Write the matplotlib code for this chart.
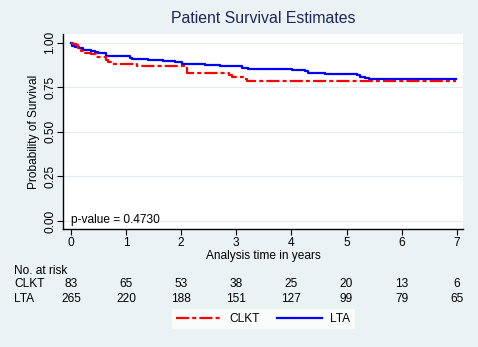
import matplotlib
matplotlib.use("Agg")
import matplotlib.pyplot as plt
import matplotlib.transforms as mtransforms

plt.rcParams['font.family'] = ['Liberation Sans', 'DejaVu Sans']

# Kaplan-Meier steps
clkt_time = [0, 0.036, 0.097, 0.127, 0.187, 0.248, 0.37, 0.46, 0.63, 0.67, 0.73,
             1.19, 2.10, 2.86, 2.92, 3.13, 3.19]
clkt_surv = [1.0, 0.994, 0.986, 0.972, 0.955, 0.944, 0.935, 0.922, 0.905, 0.892, 0.881,
             0.868, 0.832, 0.819, 0.809, 0.798, 0.787]

lta_time = [0, 0.01, 0.025, 0.067, 0.145, 0.218, 0.37, 0.43, 0.49, 0.64, 1.065, 1.10,
            1.40, 1.675, 1.89, 2.01, 2.43, 2.70, 3.10, 3.22, 4.005, 4.25, 4.31, 4.61,
            5.185, 5.245, 5.335, 5.40]
lta_surv = [1.0, 0.99, 0.981, 0.976, 0.969, 0.961, 0.955, 0.948, 0.941, 0.925, 0.916, 0.910,
            0.903, 0.897, 0.890, 0.882, 0.877, 0.868, 0.860, 0.854, 0.847, 0.840, 0.832, 0.826,
            0.819, 0.809, 0.802, 0.795]
end_time = 6.98

risk_times = [0, 1, 2, 3, 4, 5, 6, 7]
clkt_risk = [83, 65, 53, 38, 25, 20, 13, 6]
lta_risk = [265, 220, 188, 151, 127, 99, 79, 65]
y_ticks = [0, 0.25, 0.5, 0.75, 1.0]
p_text = "p-value = 0.4730"

fs = 8.6
bg = '#EAF2F3'
fig = plt.figure(figsize=(4.78, 3.47), dpi=100, facecolor=bg)
ax = fig.add_axes([0.1318, 0.340, 0.8368, 0.562])
ax.set_facecolor('white')

# curves
ax.step(lta_time + [end_time], lta_surv + [lta_surv[-1]], where='post',
        color='#0000FF', lw=1.6, label='LTA', zorder=3)
red, = ax.step(clkt_time + [end_time], clkt_surv + [clkt_surv[-1]], where='post',
               color='#FF0000', lw=1.6, label='CLKT', zorder=4)
red.set_dashes((5.9, 1.4, 1.8, 1.4))

ax.set_xlim(-0.145, 7.114)
ax.set_ylim(-0.045, 1.049)
ax.set_xticks(risk_times)
ax.set_yticks(y_ticks)
ax.set_yticklabels(['%.2f' % v for v in y_ticks], rotation=90, va='center')
ax.tick_params(labelsize=fs, length=4, width=0.8, color='black', pad=2)
ax.tick_params(axis='y', pad=1)
ax.grid(axis='y', color='#E4ECEF', lw=0.9)
ax.set_axisbelow(True)
for s in ['top', 'right']:
    ax.spines[s].set_visible(False)
for s in ['left', 'bottom']:
    ax.spines[s].set_color('black')
    ax.spines[s].set_linewidth(1.0)

ax.set_ylabel('Probability of Survival', fontsize=fs, labelpad=3)
ax.set_xlabel('Analysis time in years', fontsize=fs, labelpad=0.5)
fig.text(0.551, 0.948, 'Patient Survival Estimates', fontsize=11.4,
         color='#1c2859', ha='center', va='center')

ax.text(0, 0.005, p_text, fontsize=fs, ha='left', va='center')

# number at risk table
tr = mtransforms.blended_transform_factory(ax.transData, fig.transFigure)
fig.text(14 / 478, 1 - 270.7 / 347, 'No. at risk', fontsize=fs, va='center')
fig.text(14 / 478, 1 - 284.3 / 347, 'CLKT', fontsize=fs, va='center')
fig.text(14 / 478, 1 - 298.7 / 347, 'LTA', fontsize=fs, va='center')
for t, c, l in zip(risk_times, clkt_risk, lta_risk):
    ax.text(t, 1 - 284.3 / 347, str(c), transform=tr, fontsize=fs,
            ha='center', va='center', clip_on=False)
    ax.text(t, 1 - 298.7 / 347, str(l), transform=tr, fontsize=fs,
            ha='center', va='center', clip_on=False)

h, lab = ax.get_legend_handles_labels()
leg = fig.legend([h[1], h[0]], [lab[1], lab[0]], loc='center',
                 bbox_to_anchor=(0.551, 0.0807), ncol=2, fontsize=fs,
                 frameon=True, fancybox=False, handlelength=3.77,
                 handletextpad=0.67, columnspacing=1.48, borderpad=0.35)
leg.get_frame().set_facecolor('white')
leg.get_frame().set_edgecolor('white')
leg.get_frame().set_linewidth(0)

fig.savefig('out.png', dpi=100, facecolor=bg)
